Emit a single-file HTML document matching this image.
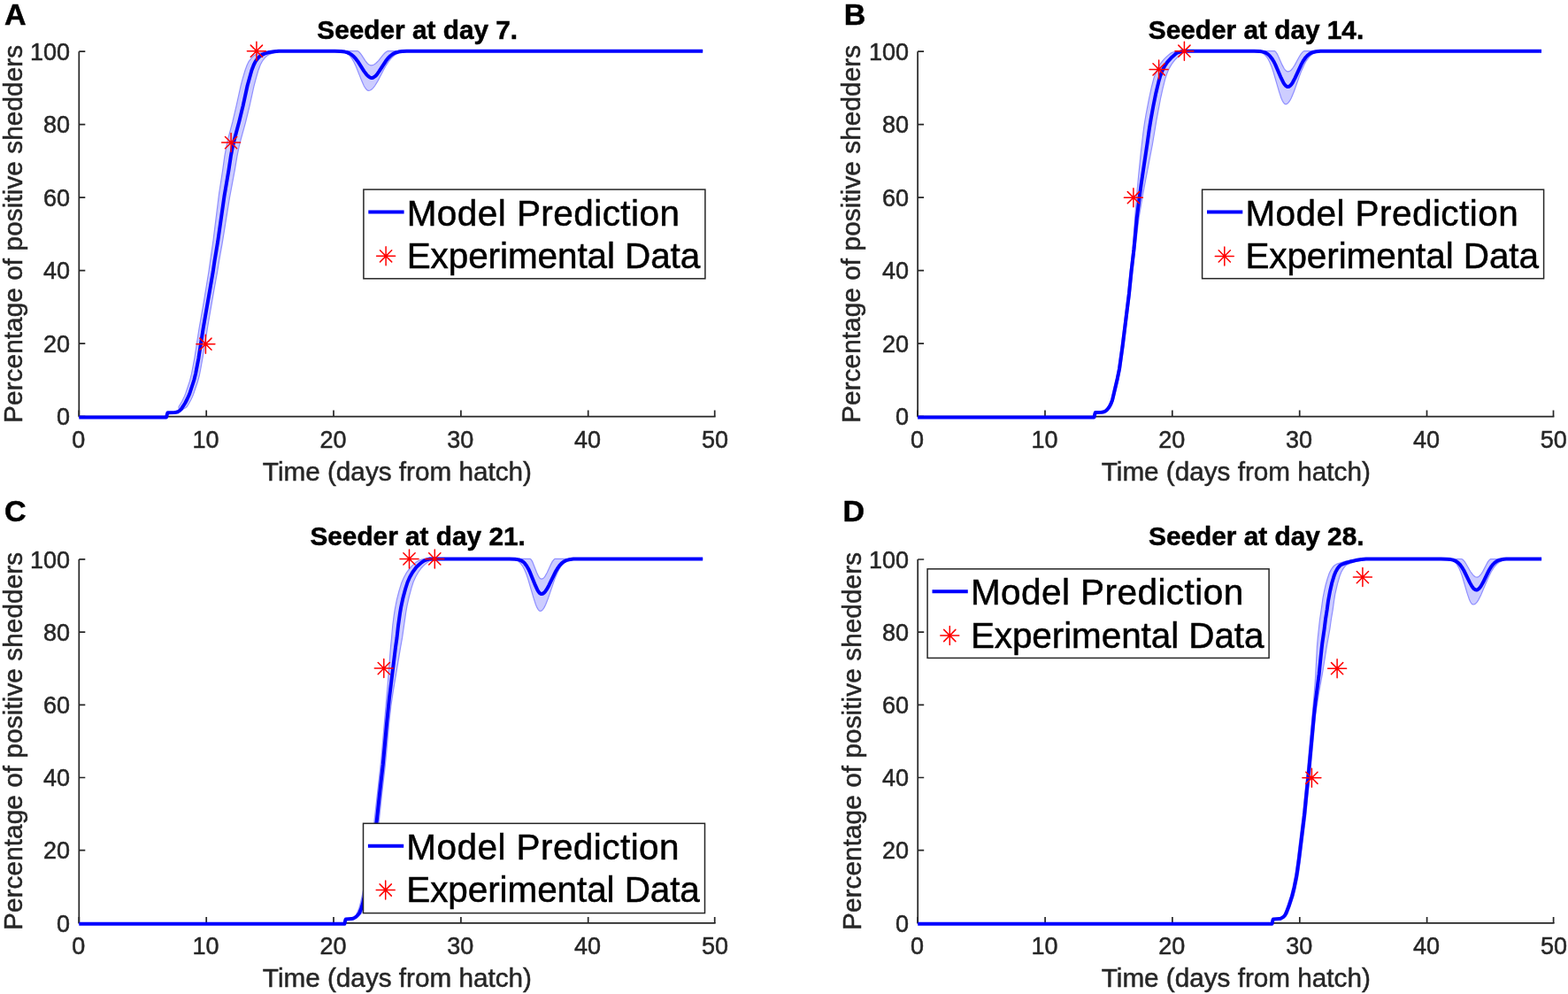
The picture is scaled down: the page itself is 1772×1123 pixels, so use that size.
<!DOCTYPE html>
<html><head><meta charset="utf-8"><title>Seeder figure</title>
<style>html,body{margin:0;padding:0;background:#fff;width:1772px;height:1123px;overflow:hidden}svg{display:block}</style>
</head><body>
<svg width="1772" height="1123" viewBox="0 0 1772 1123">
<rect width="1772" height="1123" fill="#fff"/>
<g id="panelA">
<path d="M89.3,58.2V470.6H808.6" fill="none" stroke="#262626" stroke-width="1.7" stroke-linejoin="round"/>
<path d="M89.3,470.6V463.6M233.2,470.6V463.6M377.0,470.6V463.6M520.9,470.6V463.6M664.7,470.6V463.6M807.7,470.6V463.6M89.3,470.6H96.3M89.3,388.1H96.3M89.3,305.6H96.3M89.3,223.2H96.3M89.3,140.7H96.3M89.3,58.2H96.3" stroke="#262626" stroke-width="1.7" fill="none"/>
<text transform="translate(88.7,506.1) scale(1,1.03)" text-anchor="middle" style="font-family:'Liberation Sans',Arial,Helvetica,sans-serif;font-size:27px" fill="#262626" stroke="#262626" stroke-width="0.5">0</text>
<text transform="translate(232.6,506.1) scale(1,1.03)" text-anchor="middle" style="font-family:'Liberation Sans',Arial,Helvetica,sans-serif;font-size:27px" fill="#262626" stroke="#262626" stroke-width="0.5">10</text>
<text transform="translate(376.4,506.1) scale(1,1.03)" text-anchor="middle" style="font-family:'Liberation Sans',Arial,Helvetica,sans-serif;font-size:27px" fill="#262626" stroke="#262626" stroke-width="0.5">20</text>
<text transform="translate(520.3,506.1) scale(1,1.03)" text-anchor="middle" style="font-family:'Liberation Sans',Arial,Helvetica,sans-serif;font-size:27px" fill="#262626" stroke="#262626" stroke-width="0.5">30</text>
<text transform="translate(664.1,506.1) scale(1,1.03)" text-anchor="middle" style="font-family:'Liberation Sans',Arial,Helvetica,sans-serif;font-size:27px" fill="#262626" stroke="#262626" stroke-width="0.5">40</text>
<text transform="translate(808.0,506.1) scale(1,1.03)" text-anchor="middle" style="font-family:'Liberation Sans',Arial,Helvetica,sans-serif;font-size:27px" fill="#262626" stroke="#262626" stroke-width="0.5">50</text>
<text transform="translate(79.1,480.2) scale(1,1.03)" text-anchor="end" style="font-family:'Liberation Sans',Arial,Helvetica,sans-serif;font-size:27px" fill="#262626" stroke="#262626" stroke-width="0.5">0</text>
<text transform="translate(79.1,397.7) scale(1,1.03)" text-anchor="end" style="font-family:'Liberation Sans',Arial,Helvetica,sans-serif;font-size:27px" fill="#262626" stroke="#262626" stroke-width="0.5">20</text>
<text transform="translate(79.1,315.2) scale(1,1.03)" text-anchor="end" style="font-family:'Liberation Sans',Arial,Helvetica,sans-serif;font-size:27px" fill="#262626" stroke="#262626" stroke-width="0.5">40</text>
<text transform="translate(79.1,232.8) scale(1,1.03)" text-anchor="end" style="font-family:'Liberation Sans',Arial,Helvetica,sans-serif;font-size:27px" fill="#262626" stroke="#262626" stroke-width="0.5">60</text>
<text transform="translate(79.1,150.3) scale(1,1.03)" text-anchor="end" style="font-family:'Liberation Sans',Arial,Helvetica,sans-serif;font-size:27px" fill="#262626" stroke="#262626" stroke-width="0.5">80</text>
<text transform="translate(79.1,67.8) scale(1,1.03)" text-anchor="end" style="font-family:'Liberation Sans',Arial,Helvetica,sans-serif;font-size:27px" fill="#262626" stroke="#262626" stroke-width="0.5">100</text>
<text transform="translate(448.9,543.0)" text-anchor="middle" style="font-family:'Liberation Sans',Arial,Helvetica,sans-serif;font-size:29.7px" fill="#262626" stroke="#262626" stroke-width="0.5">Time (days from hatch)</text>
<text transform="translate(24.6,264.4) rotate(-90)" text-anchor="middle" style="font-family:'Liberation Sans',Arial,Helvetica,sans-serif;font-size:29.7px" fill="#262626" stroke="#262626" stroke-width="0.5" textLength="427" lengthAdjust="spacing">Percentage of positive shedders</text>
<text transform="translate(471.7,43.9) scale(1,1.01)" text-anchor="middle" style="font-family:'Liberation Sans',Arial,Helvetica,sans-serif;font-size:29.8px;font-weight:bold" fill="#000" stroke="#000" stroke-width="0.5">Seeder at day 7.</text>
<text transform="translate(5.0,28.1)" style="font-family:'Liberation Sans',Arial,Helvetica,sans-serif;font-size:34px;font-weight:bold" fill="#000" stroke="#000" stroke-width="0.5">A</text>
<polygon points="89.3,471.4 188.0,471.4 189.1,467.3 189.6,466.2 196.8,466.0 198.8,465.8 201.2,465.2 201.8,464.8 202.2,464.2 202.5,463.1 202.0,460.7 202.1,459.5 205.8,453.2 208.7,447.2 209.8,444.4 214.4,430.6 216.5,422.3 219.8,404.8 224.8,372.6 230.6,339.4 235.9,307.2 237.5,295.5 240.8,273.2 247.6,218.6 251.7,192.2 253.9,176.2 256.2,163.8 257.8,156.7 262.8,137.9 267.2,119.2 272.0,97.4 274.0,89.7 277.0,79.5 279.2,73.5 281.1,69.6 283.0,67.0 284.8,64.9 286.5,63.3 288.2,62.1 291.9,60.4 295.7,59.3 302.3,58.2 307.5,57.7 403.8,57.7 404.5,57.9 405.3,58.3 406.9,60.0 408.6,62.2 412.8,68.7 415.1,71.5 416.3,72.6 417.4,73.3 418.5,73.7 419.5,73.8 420.8,73.7 422.1,73.2 423.4,72.5 424.8,71.5 427.7,68.6 432.8,62.2 434.8,60.0 436.9,58.3 437.8,57.9 438.7,57.7 786.7,57.7 794.2,57.7 475.3,57.7 464.0,57.8 457.5,58.3 452.8,59.1 450.8,59.8 448.9,60.6 447.1,61.6 445.4,62.8 442.1,65.8 439.2,69.4 436.1,74.2 433.3,79.2 426.9,91.6 423.6,97.0 421.7,99.4 420.0,101.1 418.3,102.0 416.7,102.4 415.4,102.1 414.1,101.1 412.8,99.5 411.3,97.0 408.9,91.6 402.2,74.7 400.2,70.5 398.2,66.9 396.2,64.1 394.1,61.9 391.8,60.3 389.3,59.1 387.4,58.5 385.1,58.1 378.8,57.8 322.6,57.7 317.3,58.2 310.7,59.3 306.9,60.4 303.1,62.1 301.5,63.3 299.8,64.9 298.0,67.0 296.2,69.5 294.2,73.3 292.0,79.2 289.0,89.7 286.9,97.7 282.0,119.9 277.4,138.7 272.1,157.8 269.9,166.8 268.0,176.2 265.3,192.2 259.4,223.6 251.1,275.1 247.7,294.2 245.5,307.6 241.8,327.8 234.7,368.8 229.3,402.7 226.8,416.5 225.2,424.5 223.2,431.7 218.6,445.4 217.3,448.6 215.6,452.0 213.5,455.8 211.6,459.0 210.9,459.7 209.9,460.6 206.2,462.7 200.8,465.4 197.6,466.0 189.6,466.2 189.1,467.3 188.0,471.4 89.3,471.4" fill="#cdcdff" stroke="none"/>
<polyline points="89.3,471.4 188.0,471.4 189.1,467.3 189.6,466.2 196.8,466.0 198.8,465.8 201.2,465.2 201.8,464.8 202.2,464.2 202.5,463.1 202.0,460.7 202.1,459.5 205.8,453.2 208.7,447.2 209.8,444.4 214.4,430.6 216.5,422.3 219.8,404.8 224.8,372.6 230.6,339.4 235.9,307.2 237.5,295.5 240.8,273.2 247.6,218.6 251.7,192.2 253.9,176.2 256.2,163.8 257.8,156.7 262.8,137.9 267.2,119.2 272.0,97.4 274.0,89.7 277.0,79.5 279.2,73.5 281.1,69.6 283.0,67.0 284.8,64.9 286.5,63.3 288.2,62.1 291.9,60.4 295.7,59.3 302.3,58.2 307.5,57.7 403.8,57.7 404.5,57.9 405.3,58.3 406.9,60.0 408.6,62.2 412.8,68.7 415.1,71.5 416.3,72.6 417.4,73.3 418.5,73.7 419.5,73.8 420.8,73.7 422.1,73.2 423.4,72.5 424.8,71.5 427.7,68.6 432.8,62.2 434.8,60.0 436.9,58.3 437.8,57.9 438.7,57.7 786.7,57.7" fill="none" stroke="#8f8fff" stroke-width="1.2"/>
<polyline points="89.3,471.4 188.0,471.4 189.1,467.3 189.6,466.2 197.6,466.0 200.8,465.4 206.2,462.7 209.9,460.6 210.9,459.7 211.6,459.0 213.5,455.8 215.6,452.0 217.3,448.6 218.6,445.4 223.2,431.7 225.2,424.5 226.8,416.5 229.3,402.7 234.7,368.8 241.8,327.8 245.5,307.6 247.7,294.2 251.1,275.1 259.4,223.6 265.3,192.2 268.0,176.2 269.9,166.8 272.1,157.8 277.4,138.7 282.0,119.9 286.9,97.7 289.0,89.7 292.0,79.2 294.2,73.3 296.2,69.5 298.0,67.0 299.8,64.9 301.5,63.3 303.1,62.1 306.9,60.4 310.7,59.3 317.3,58.2 322.6,57.7 378.8,57.8 385.1,58.1 387.4,58.5 389.3,59.1 391.8,60.3 394.1,61.9 396.2,64.1 398.2,66.9 400.2,70.5 402.2,74.7 408.9,91.6 411.3,97.0 412.8,99.5 414.1,101.1 415.4,102.1 416.7,102.4 418.3,102.0 420.0,101.1 421.7,99.4 423.6,97.0 426.9,91.6 433.3,79.2 436.1,74.2 439.2,69.4 442.1,65.8 445.4,62.8 447.1,61.6 448.9,60.6 450.8,59.8 452.8,59.1 457.5,58.3 464.0,57.8 475.3,57.7 794.2,57.7" fill="none" stroke="#8f8fff" stroke-width="1.2"/>
<polyline points="89.3,471.4 188.0,471.4 189.1,467.3 189.6,466.2 197.0,466.0 199.0,465.8 201.2,465.2 203.1,463.9 204.7,462.3 207.1,458.7 209.3,455.2 211.6,450.8 214.2,445.0 219.4,429.0 221.2,421.6 224.4,404.8 229.6,371.3 240.7,307.2 242.4,295.5 246.1,273.2 253.6,220.8 258.5,192.2 260.9,176.2 262.9,165.7 264.9,157.6 270.3,137.3 274.6,119.6 279.6,96.8 284.4,79.5 286.7,73.5 288.6,69.6 290.5,67.0 292.3,64.9 294.0,63.3 295.7,62.1 299.4,60.4 303.2,59.3 309.8,58.2 315.0,57.7 378.2,57.7 385.1,58.0 389.8,58.6 392.6,59.3 395.1,60.4 397.5,61.9 399.7,63.8 401.9,66.2 404.2,69.2 411.5,80.6 414.3,84.3 415.9,85.9 417.3,87.0 418.7,87.7 420.1,87.9 421.5,87.7 422.8,87.0 424.3,85.9 425.8,84.3 428.4,80.7 436.1,68.8 438.7,65.5 441.3,63.0 444.1,60.9 447.0,59.5 450.4,58.6 454.5,58.0 459.8,57.8 469.5,57.7 794.2,57.7" fill="none" stroke="#0000ff" stroke-width="4" stroke-linejoin="round" stroke-linecap="butt"/>
<path d="M221.9,388.7H242.9M232.4,378.2V399.2M225.8,382.1L239.0,395.3M225.8,395.3L239.0,382.1M250.6,161.1H271.6M261.1,150.6V171.6M254.5,154.5L267.7,167.7M254.5,167.7L267.7,154.5M279.4,57.7H300.4M289.9,47.2V68.2M283.3,51.1L296.5,64.3M283.3,64.3L296.5,51.1" stroke="#ff0000" stroke-width="1.5" stroke-linecap="round" fill="none"/>
<rect x="410.9" y="214.1" width="386.0" height="100.7" fill="#fff" stroke="#262626" stroke-width="1.5"/>
<path d="M416.3,239.5H456.6" stroke="#0000ff" stroke-width="4"/>
<path d="M425.6,289.3H446.6M436.1,278.8V299.8M429.5,282.7L442.7,295.9M429.5,295.9L442.7,282.7" stroke="#ff0000" stroke-width="1.5" stroke-linecap="round" fill="none"/>
<text transform="translate(459.7,254.7) scale(1,1.01)" style="font-family:'Liberation Sans',Arial,Helvetica,sans-serif;font-size:40.5px" fill="#000" stroke="#000" stroke-width="0.5" textLength="308.3" lengthAdjust="spacing">Model Prediction</text>
<text transform="translate(459.7,302.8) scale(1,1.01)" style="font-family:'Liberation Sans',Arial,Helvetica,sans-serif;font-size:40.5px" fill="#000" stroke="#000" stroke-width="0.5" textLength="331.6" lengthAdjust="spacing">Experimental Data</text>
</g>
<g id="panelB">
<path d="M1037.1,58.2V470.6H1756.4" fill="none" stroke="#262626" stroke-width="1.7" stroke-linejoin="round"/>
<path d="M1037.1,470.6V463.6M1181.0,470.6V463.6M1324.8,470.6V463.6M1468.7,470.6V463.6M1612.5,470.6V463.6M1755.5,470.6V463.6M1037.1,470.6H1044.1M1037.1,388.1H1044.1M1037.1,305.6H1044.1M1037.1,223.2H1044.1M1037.1,140.7H1044.1M1037.1,58.2H1044.1" stroke="#262626" stroke-width="1.7" fill="none"/>
<text transform="translate(1036.5,506.1) scale(1,1.03)" text-anchor="middle" style="font-family:'Liberation Sans',Arial,Helvetica,sans-serif;font-size:27px" fill="#262626" stroke="#262626" stroke-width="0.5">0</text>
<text transform="translate(1180.4,506.1) scale(1,1.03)" text-anchor="middle" style="font-family:'Liberation Sans',Arial,Helvetica,sans-serif;font-size:27px" fill="#262626" stroke="#262626" stroke-width="0.5">10</text>
<text transform="translate(1324.2,506.1) scale(1,1.03)" text-anchor="middle" style="font-family:'Liberation Sans',Arial,Helvetica,sans-serif;font-size:27px" fill="#262626" stroke="#262626" stroke-width="0.5">20</text>
<text transform="translate(1468.1,506.1) scale(1,1.03)" text-anchor="middle" style="font-family:'Liberation Sans',Arial,Helvetica,sans-serif;font-size:27px" fill="#262626" stroke="#262626" stroke-width="0.5">30</text>
<text transform="translate(1611.9,506.1) scale(1,1.03)" text-anchor="middle" style="font-family:'Liberation Sans',Arial,Helvetica,sans-serif;font-size:27px" fill="#262626" stroke="#262626" stroke-width="0.5">40</text>
<text transform="translate(1755.8,506.1) scale(1,1.03)" text-anchor="middle" style="font-family:'Liberation Sans',Arial,Helvetica,sans-serif;font-size:27px" fill="#262626" stroke="#262626" stroke-width="0.5">50</text>
<text transform="translate(1026.9,480.2) scale(1,1.03)" text-anchor="end" style="font-family:'Liberation Sans',Arial,Helvetica,sans-serif;font-size:27px" fill="#262626" stroke="#262626" stroke-width="0.5">0</text>
<text transform="translate(1026.9,397.7) scale(1,1.03)" text-anchor="end" style="font-family:'Liberation Sans',Arial,Helvetica,sans-serif;font-size:27px" fill="#262626" stroke="#262626" stroke-width="0.5">20</text>
<text transform="translate(1026.9,315.2) scale(1,1.03)" text-anchor="end" style="font-family:'Liberation Sans',Arial,Helvetica,sans-serif;font-size:27px" fill="#262626" stroke="#262626" stroke-width="0.5">40</text>
<text transform="translate(1026.9,232.8) scale(1,1.03)" text-anchor="end" style="font-family:'Liberation Sans',Arial,Helvetica,sans-serif;font-size:27px" fill="#262626" stroke="#262626" stroke-width="0.5">60</text>
<text transform="translate(1026.9,150.3) scale(1,1.03)" text-anchor="end" style="font-family:'Liberation Sans',Arial,Helvetica,sans-serif;font-size:27px" fill="#262626" stroke="#262626" stroke-width="0.5">80</text>
<text transform="translate(1026.9,67.8) scale(1,1.03)" text-anchor="end" style="font-family:'Liberation Sans',Arial,Helvetica,sans-serif;font-size:27px" fill="#262626" stroke="#262626" stroke-width="0.5">100</text>
<text transform="translate(1396.8,543.0)" text-anchor="middle" style="font-family:'Liberation Sans',Arial,Helvetica,sans-serif;font-size:29.7px" fill="#262626" stroke="#262626" stroke-width="0.5">Time (days from hatch)</text>
<text transform="translate(972.4,264.4) rotate(-90)" text-anchor="middle" style="font-family:'Liberation Sans',Arial,Helvetica,sans-serif;font-size:29.7px" fill="#262626" stroke="#262626" stroke-width="0.5" textLength="427" lengthAdjust="spacing">Percentage of positive shedders</text>
<text transform="translate(1419.5,43.9) scale(1,1.01)" text-anchor="middle" style="font-family:'Liberation Sans',Arial,Helvetica,sans-serif;font-size:29.8px;font-weight:bold" fill="#000" stroke="#000" stroke-width="0.5">Seeder at day 14.</text>
<text transform="translate(953.8,28.1)" style="font-family:'Liberation Sans',Arial,Helvetica,sans-serif;font-size:34px;font-weight:bold" fill="#000" stroke="#000" stroke-width="0.5">B</text>
<polygon points="1037.1,471.4 1236.5,471.4 1237.4,467.3 1237.9,466.1 1244.9,465.8 1246.5,465.6 1248.8,464.7 1249.6,464.0 1250.5,462.9 1254.2,455.8 1255.4,452.6 1256.1,450.2 1260.9,429.4 1263.2,419.2 1266.7,394.6 1274.4,332.6 1277.1,306.7 1279.6,285.4 1281.0,269.6 1282.7,244.7 1284.6,220.8 1287.1,194.3 1289.2,173.2 1291.9,150.3 1293.3,140.0 1295.1,129.3 1298.5,111.6 1301.2,99.2 1304.0,88.3 1306.7,80.8 1308.1,77.7 1309.5,75.0 1311.2,72.3 1313.2,69.6 1315.5,66.9 1317.8,64.6 1321.7,61.2 1323.5,59.9 1324.7,59.4 1328.3,58.3 1330.8,57.9 1333.0,57.7 1440.3,57.7 1441.0,58.0 1441.7,58.7 1443.4,61.1 1444.9,64.2 1449.0,73.4 1451.2,77.5 1452.3,78.9 1453.4,80.0 1454.4,80.7 1455.4,80.9 1456.7,80.7 1458.0,80.0 1459.3,79.0 1460.6,77.5 1463.3,73.4 1468.2,64.2 1470.2,61.0 1472.2,58.6 1473.1,58.0 1474.0,57.7 1735.5,57.7 1742.0,57.7 1505.6,57.7 1495.6,57.9 1492.3,58.2 1489.7,58.6 1487.6,59.1 1485.7,59.9 1483.9,60.8 1482.2,61.9 1480.6,63.3 1479.1,64.9 1476.2,68.8 1473.6,73.7 1470.8,79.9 1468.2,86.7 1462.4,103.2 1459.4,110.5 1457.7,113.7 1456.1,115.9 1454.5,117.3 1453.7,117.6 1453.0,117.7 1452.4,117.6 1451.8,117.3 1450.5,115.9 1449.2,113.7 1447.8,110.5 1445.4,103.1 1438.9,80.8 1436.9,75.0 1434.9,70.3 1433.0,66.5 1430.9,63.5 1428.7,61.2 1426.2,59.6 1424.2,58.8 1421.9,58.3 1419.0,57.9 1415.4,57.8 1346.2,57.7 1343.9,57.9 1341.4,58.3 1337.6,59.4 1336.4,59.9 1334.7,61.1 1331.4,64.0 1327.6,67.9 1324.0,72.6 1321.1,77.6 1318.8,83.0 1316.7,89.3 1314.0,100.1 1311.5,111.3 1306.7,137.0 1302.4,163.0 1291.7,218.6 1287.2,245.3 1285.3,260.1 1280.2,304.8 1277.1,334.5 1270.1,390.8 1266.5,416.8 1264.0,428.5 1258.6,451.6 1257.0,455.9 1255.1,459.5 1253.9,460.9 1252.2,462.4 1249.7,464.2 1248.4,465.0 1246.6,465.5 1245.3,465.8 1237.9,466.1 1237.4,467.3 1236.5,471.4 1037.1,471.4" fill="#cdcdff" stroke="none"/>
<polyline points="1037.1,471.4 1236.5,471.4 1237.4,467.3 1237.9,466.1 1244.9,465.8 1246.5,465.6 1248.8,464.7 1249.6,464.0 1250.5,462.9 1254.2,455.8 1255.4,452.6 1256.1,450.2 1260.9,429.4 1263.2,419.2 1266.7,394.6 1274.4,332.6 1277.1,306.7 1279.6,285.4 1281.0,269.6 1282.7,244.7 1284.6,220.8 1287.1,194.3 1289.2,173.2 1291.9,150.3 1293.3,140.0 1295.1,129.3 1298.5,111.6 1301.2,99.2 1304.0,88.3 1306.7,80.8 1308.1,77.7 1309.5,75.0 1311.2,72.3 1313.2,69.6 1315.5,66.9 1317.8,64.6 1321.7,61.2 1323.5,59.9 1324.7,59.4 1328.3,58.3 1330.8,57.9 1333.0,57.7 1440.3,57.7 1441.0,58.0 1441.7,58.7 1443.4,61.1 1444.9,64.2 1449.0,73.4 1451.2,77.5 1452.3,78.9 1453.4,80.0 1454.4,80.7 1455.4,80.9 1456.7,80.7 1458.0,80.0 1459.3,79.0 1460.6,77.5 1463.3,73.4 1468.2,64.2 1470.2,61.0 1472.2,58.6 1473.1,58.0 1474.0,57.7 1735.5,57.7" fill="none" stroke="#8f8fff" stroke-width="1.2"/>
<polyline points="1037.1,471.4 1236.5,471.4 1237.4,467.3 1237.9,466.1 1245.3,465.8 1246.6,465.5 1248.4,465.0 1249.7,464.2 1252.2,462.4 1253.9,460.9 1255.1,459.5 1257.0,455.9 1258.6,451.6 1264.0,428.5 1266.5,416.8 1270.1,390.8 1277.1,334.5 1280.2,304.8 1285.3,260.1 1287.2,245.3 1291.7,218.6 1302.4,163.0 1306.7,137.0 1311.5,111.3 1314.0,100.1 1316.7,89.3 1318.8,83.0 1321.1,77.6 1324.0,72.6 1327.6,67.9 1331.4,64.0 1334.7,61.1 1336.4,59.9 1337.6,59.4 1341.4,58.3 1343.9,57.9 1346.2,57.7 1415.4,57.8 1419.0,57.9 1421.9,58.3 1424.2,58.8 1426.2,59.6 1428.7,61.2 1430.9,63.5 1433.0,66.5 1434.9,70.3 1436.9,75.0 1438.9,80.8 1445.4,103.1 1447.8,110.5 1449.2,113.7 1450.5,115.9 1451.8,117.3 1452.4,117.6 1453.0,117.7 1453.7,117.6 1454.5,117.3 1456.1,115.9 1457.7,113.7 1459.4,110.5 1462.4,103.2 1468.2,86.7 1470.8,79.9 1473.6,73.7 1476.2,68.8 1479.1,64.9 1480.6,63.3 1482.2,61.9 1483.9,60.8 1485.7,59.9 1487.6,59.1 1489.7,58.6 1492.3,58.2 1495.6,57.9 1505.6,57.7 1742.0,57.7" fill="none" stroke="#8f8fff" stroke-width="1.2"/>
<polyline points="1037.1,471.4 1236.5,471.4 1237.4,467.3 1237.9,466.1 1245.2,465.8 1247.7,465.2 1248.9,464.7 1250.1,463.8 1251.5,462.5 1252.8,460.8 1254.1,458.8 1255.2,456.7 1257.1,451.9 1262.7,428.2 1265.1,416.3 1268.7,390.2 1276.0,331.4 1278.5,306.7 1281.4,282.0 1284.8,246.0 1287.8,221.9 1289.5,209.3 1296.6,161.5 1298.8,145.9 1300.6,134.9 1303.3,120.0 1306.3,105.2 1309.5,91.9 1311.2,86.0 1313.8,79.3 1315.2,76.4 1316.7,73.8 1318.4,71.3 1320.4,68.8 1324.5,64.4 1328.2,61.2 1329.9,59.9 1331.1,59.4 1334.8,58.3 1337.3,57.9 1339.6,57.7 1417.2,57.7 1423.9,58.0 1426.2,58.4 1428.3,58.9 1430.8,59.9 1433.1,61.4 1435.2,63.4 1437.2,65.9 1439.3,69.2 1441.3,73.1 1447.8,88.2 1450.3,93.2 1451.6,95.3 1452.9,96.8 1454.2,97.7 1455.4,98.0 1456.7,97.7 1458.0,96.9 1459.4,95.4 1460.8,93.3 1463.4,88.4 1470.7,72.6 1473.1,68.3 1475.4,65.0 1477.9,62.3 1480.6,60.4 1483.6,59.0 1487.3,58.2 1492.3,57.8 1501.1,57.7 1742.0,57.7" fill="none" stroke="#0000ff" stroke-width="4" stroke-linejoin="round" stroke-linecap="butt"/>
<path d="M1270.4,223.2H1291.4M1280.9,212.7V233.7M1274.3,216.6L1287.5,229.8M1274.3,229.8L1287.5,216.6M1299.1,78.4H1320.1M1309.6,67.9V88.9M1303.0,71.8L1316.2,85.0M1303.0,85.0L1316.2,71.8M1327.9,57.7H1348.9M1338.4,47.2V68.2M1331.8,51.1L1345.0,64.3M1331.8,64.3L1345.0,51.1" stroke="#ff0000" stroke-width="1.5" stroke-linecap="round" fill="none"/>
<rect x="1358.6" y="214.2" width="386.0" height="100.5" fill="#fff" stroke="#262626" stroke-width="1.5"/>
<path d="M1364.0,239.6H1404.3" stroke="#0000ff" stroke-width="4"/>
<path d="M1373.3,289.4H1394.3M1383.8,278.9V299.9M1377.2,282.8L1390.4,296.0M1377.2,296.0L1390.4,282.8" stroke="#ff0000" stroke-width="1.5" stroke-linecap="round" fill="none"/>
<text transform="translate(1407.4,254.8) scale(1,1.01)" style="font-family:'Liberation Sans',Arial,Helvetica,sans-serif;font-size:40.5px" fill="#000" stroke="#000" stroke-width="0.5" textLength="308.3" lengthAdjust="spacing">Model Prediction</text>
<text transform="translate(1407.4,302.9) scale(1,1.01)" style="font-family:'Liberation Sans',Arial,Helvetica,sans-serif;font-size:40.5px" fill="#000" stroke="#000" stroke-width="0.5" textLength="331.6" lengthAdjust="spacing">Experimental Data</text>
</g>
<g id="panelC">
<path d="M89.3,631.9V1042.9H808.6" fill="none" stroke="#262626" stroke-width="1.7" stroke-linejoin="round"/>
<path d="M89.3,1042.9V1035.9M233.2,1042.9V1035.9M377.0,1042.9V1035.9M520.9,1042.9V1035.9M664.7,1042.9V1035.9M807.7,1042.9V1035.9M89.3,1042.9H96.3M89.3,960.7H96.3M89.3,878.5H96.3M89.3,796.3H96.3M89.3,714.1H96.3M89.3,631.9H96.3" stroke="#262626" stroke-width="1.7" fill="none"/>
<text transform="translate(88.7,1078.4) scale(1,1.03)" text-anchor="middle" style="font-family:'Liberation Sans',Arial,Helvetica,sans-serif;font-size:27px" fill="#262626" stroke="#262626" stroke-width="0.5">0</text>
<text transform="translate(232.6,1078.4) scale(1,1.03)" text-anchor="middle" style="font-family:'Liberation Sans',Arial,Helvetica,sans-serif;font-size:27px" fill="#262626" stroke="#262626" stroke-width="0.5">10</text>
<text transform="translate(376.4,1078.4) scale(1,1.03)" text-anchor="middle" style="font-family:'Liberation Sans',Arial,Helvetica,sans-serif;font-size:27px" fill="#262626" stroke="#262626" stroke-width="0.5">20</text>
<text transform="translate(520.3,1078.4) scale(1,1.03)" text-anchor="middle" style="font-family:'Liberation Sans',Arial,Helvetica,sans-serif;font-size:27px" fill="#262626" stroke="#262626" stroke-width="0.5">30</text>
<text transform="translate(664.1,1078.4) scale(1,1.03)" text-anchor="middle" style="font-family:'Liberation Sans',Arial,Helvetica,sans-serif;font-size:27px" fill="#262626" stroke="#262626" stroke-width="0.5">40</text>
<text transform="translate(808.0,1078.4) scale(1,1.03)" text-anchor="middle" style="font-family:'Liberation Sans',Arial,Helvetica,sans-serif;font-size:27px" fill="#262626" stroke="#262626" stroke-width="0.5">50</text>
<text transform="translate(79.1,1052.5) scale(1,1.03)" text-anchor="end" style="font-family:'Liberation Sans',Arial,Helvetica,sans-serif;font-size:27px" fill="#262626" stroke="#262626" stroke-width="0.5">0</text>
<text transform="translate(79.1,970.3) scale(1,1.03)" text-anchor="end" style="font-family:'Liberation Sans',Arial,Helvetica,sans-serif;font-size:27px" fill="#262626" stroke="#262626" stroke-width="0.5">20</text>
<text transform="translate(79.1,888.1) scale(1,1.03)" text-anchor="end" style="font-family:'Liberation Sans',Arial,Helvetica,sans-serif;font-size:27px" fill="#262626" stroke="#262626" stroke-width="0.5">40</text>
<text transform="translate(79.1,805.9) scale(1,1.03)" text-anchor="end" style="font-family:'Liberation Sans',Arial,Helvetica,sans-serif;font-size:27px" fill="#262626" stroke="#262626" stroke-width="0.5">60</text>
<text transform="translate(79.1,723.7) scale(1,1.03)" text-anchor="end" style="font-family:'Liberation Sans',Arial,Helvetica,sans-serif;font-size:27px" fill="#262626" stroke="#262626" stroke-width="0.5">80</text>
<text transform="translate(79.1,641.5) scale(1,1.03)" text-anchor="end" style="font-family:'Liberation Sans',Arial,Helvetica,sans-serif;font-size:27px" fill="#262626" stroke="#262626" stroke-width="0.5">100</text>
<text transform="translate(448.9,1115.3)" text-anchor="middle" style="font-family:'Liberation Sans',Arial,Helvetica,sans-serif;font-size:29.7px" fill="#262626" stroke="#262626" stroke-width="0.5">Time (days from hatch)</text>
<text transform="translate(24.6,837.4) rotate(-90)" text-anchor="middle" style="font-family:'Liberation Sans',Arial,Helvetica,sans-serif;font-size:29.7px" fill="#262626" stroke="#262626" stroke-width="0.5" textLength="427" lengthAdjust="spacing">Percentage of positive shedders</text>
<text transform="translate(472.1,615.9) scale(1,1.01)" text-anchor="middle" style="font-family:'Liberation Sans',Arial,Helvetica,sans-serif;font-size:29.8px;font-weight:bold" fill="#000" stroke="#000" stroke-width="0.5">Seeder at day 21.</text>
<text transform="translate(4.9,589.4)" style="font-family:'Liberation Sans',Arial,Helvetica,sans-serif;font-size:34px;font-weight:bold" fill="#000" stroke="#000" stroke-width="0.5">C</text>
<polygon points="89.3,1043.7 389.4,1043.7 390.3,1039.6 390.8,1038.4 397.8,1038.0 399.8,1037.4 401.3,1036.2 402.3,1034.7 403.0,1032.5 404.6,1029.2 406.1,1025.1 407.7,1019.2 409.5,1010.9 411.5,1000.4 414.3,984.2 421.3,940.5 422.8,929.6 430.9,857.3 438.2,773.1 441.5,730.8 442.5,721.4 443.8,706.2 445.3,694.8 446.4,687.9 448.4,677.7 450.9,668.0 453.7,658.8 456.3,652.7 459.5,646.9 463.2,641.8 465.3,639.6 467.6,637.4 470.1,635.3 472.2,633.9 473.8,633.1 476.6,632.1 478.7,631.6 480.5,631.4 599.1,631.4 599.7,631.7 600.4,632.3 601.7,634.6 606.5,646.7 608.4,650.8 609.4,652.3 610.2,653.3 611.1,653.9 611.9,654.1 613.0,653.9 614.0,653.3 615.0,652.3 616.1,650.9 618.4,646.8 622.5,637.7 624.1,634.6 625.8,632.3 626.5,631.7 627.2,631.4 787.7,631.4 794.2,631.4 656.8,631.4 648.3,631.8 645.4,632.2 642.9,632.8 639.7,634.2 636.9,636.4 634.3,639.3 631.9,643.1 629.6,647.7 627.1,653.6 619.4,676.1 616.6,683.3 615.0,686.4 613.5,688.6 612.1,689.9 611.4,690.2 610.6,690.4 610.1,690.3 609.4,689.9 608.2,688.6 606.9,686.4 605.5,683.2 603.1,675.9 596.7,654.0 594.7,648.2 592.7,643.5 590.7,639.7 588.6,636.8 586.3,634.6 583.8,633.1 581.8,632.4 579.4,631.9 576.6,631.6 572.8,631.5 493.4,631.4 491.6,631.6 489.6,632.1 486.7,633.1 485.1,633.9 483.2,635.2 480.9,637.1 478.4,639.4 476.4,641.5 472.7,646.5 469.7,651.8 467.1,657.5 465.0,664.1 462.3,674.0 459.9,684.8 458.6,692.3 454.5,720.9 452.7,730.8 444.2,781.6 441.9,797.2 439.7,816.4 436.6,851.1 435.2,865.7 431.4,898.6 428.4,926.7 427.1,936.3 419.3,985.1 416.9,999.6 415.1,1008.8 413.3,1017.7 411.6,1024.0 409.6,1029.5 408.7,1031.3 408.1,1032.2 406.7,1033.4 404.7,1034.7 401.7,1036.4 399.5,1037.5 397.3,1038.1 390.8,1038.4 390.3,1039.6 389.4,1043.7 89.3,1043.7" fill="#cdcdff" stroke="none"/>
<polyline points="89.3,1043.7 389.4,1043.7 390.3,1039.6 390.8,1038.4 397.8,1038.0 399.8,1037.4 401.3,1036.2 402.3,1034.7 403.0,1032.5 404.6,1029.2 406.1,1025.1 407.7,1019.2 409.5,1010.9 411.5,1000.4 414.3,984.2 421.3,940.5 422.8,929.6 430.9,857.3 438.2,773.1 441.5,730.8 442.5,721.4 443.8,706.2 445.3,694.8 446.4,687.9 448.4,677.7 450.9,668.0 453.7,658.8 456.3,652.7 459.5,646.9 463.2,641.8 465.3,639.6 467.6,637.4 470.1,635.3 472.2,633.9 473.8,633.1 476.6,632.1 478.7,631.6 480.5,631.4 599.1,631.4 599.7,631.7 600.4,632.3 601.7,634.6 606.5,646.7 608.4,650.8 609.4,652.3 610.2,653.3 611.1,653.9 611.9,654.1 613.0,653.9 614.0,653.3 615.0,652.3 616.1,650.9 618.4,646.8 622.5,637.7 624.1,634.6 625.8,632.3 626.5,631.7 627.2,631.4 787.7,631.4" fill="none" stroke="#8f8fff" stroke-width="1.2"/>
<polyline points="89.3,1043.7 389.4,1043.7 390.3,1039.6 390.8,1038.4 397.3,1038.1 399.5,1037.5 401.7,1036.4 404.7,1034.7 406.7,1033.4 408.1,1032.2 408.7,1031.3 409.6,1029.5 411.6,1024.0 413.3,1017.7 415.1,1008.8 416.9,999.6 419.3,985.1 427.1,936.3 428.4,926.7 431.4,898.6 435.2,865.7 436.6,851.1 439.7,816.4 441.9,797.2 444.2,781.6 452.7,730.8 454.5,720.9 458.6,692.3 459.9,684.8 462.3,674.0 465.0,664.1 467.1,657.5 469.7,651.8 472.7,646.5 476.4,641.5 478.4,639.4 480.9,637.1 483.2,635.2 485.1,633.9 486.7,633.1 489.6,632.1 491.6,631.6 493.4,631.4 572.8,631.5 576.6,631.6 579.4,631.9 581.8,632.4 583.8,633.1 586.3,634.6 588.6,636.8 590.7,639.7 592.7,643.5 594.7,648.2 596.7,654.0 603.1,675.9 605.5,683.2 606.9,686.4 608.2,688.6 609.4,689.9 610.1,690.3 610.6,690.4 611.4,690.2 612.1,689.9 613.5,688.6 615.0,686.4 616.6,683.3 619.4,676.1 627.1,653.6 629.6,647.7 631.9,643.1 634.3,639.3 636.9,636.4 639.7,634.2 642.9,632.8 645.4,632.2 648.3,631.8 656.8,631.4 794.2,631.4" fill="none" stroke="#8f8fff" stroke-width="1.2"/>
<polyline points="89.3,1043.7 389.4,1043.7 390.3,1039.6 390.8,1038.4 397.2,1038.1 398.6,1037.8 399.8,1037.4 401.1,1036.6 402.6,1035.6 403.8,1034.4 405.2,1032.7 406.2,1031.3 408.2,1026.6 410.0,1020.6 411.6,1013.4 413.8,1002.0 416.6,986.0 424.9,933.4 425.9,926.1 428.8,898.6 432.8,863.7 436.9,818.7 439.9,789.3 447.0,731.3 448.5,720.9 450.0,707.3 452.1,692.3 453.2,685.9 455.5,675.2 458.1,665.5 460.5,658.0 463.0,652.2 466.1,646.7 469.8,641.7 471.9,639.4 474.3,637.3 476.6,635.3 478.7,633.9 480.2,633.1 483.1,632.1 485.1,631.6 486.9,631.4 575.8,631.4 582.3,631.7 586.4,632.4 588.9,633.3 591.2,634.7 593.2,636.7 595.1,639.2 597.0,642.4 598.9,646.4 605.0,661.4 607.2,666.2 608.4,668.3 609.6,669.8 610.8,670.7 611.9,671.0 613.3,670.7 614.7,669.8 616.1,668.3 617.6,666.2 620.3,661.4 627.6,646.3 629.9,642.4 632.2,639.2 634.5,636.6 637.0,634.6 639.8,633.2 642.9,632.3 648.0,631.6 656.2,631.4 794.2,631.4" fill="none" stroke="#0000ff" stroke-width="4" stroke-linejoin="round" stroke-linecap="butt"/>
<path d="M423.3,755.1H444.3M433.8,744.6V765.6M427.2,748.5L440.4,761.7M427.2,761.7L440.4,748.5M452.0,631.4H473.0M462.5,620.9V641.9M455.9,624.8L469.1,638.0M455.9,638.0L469.1,624.8M480.8,631.4H501.8M491.3,620.9V641.9M484.7,624.8L497.9,638.0M484.7,638.0L497.9,624.8" stroke="#ff0000" stroke-width="1.5" stroke-linecap="round" fill="none"/>
<rect x="410.5" y="930.3" width="386.0" height="101.3" fill="#fff" stroke="#262626" stroke-width="1.5"/>
<path d="M415.9,955.7H456.2" stroke="#0000ff" stroke-width="4"/>
<path d="M425.2,1005.5H446.2M435.7,995.0V1016.0M429.1,998.9L442.3,1012.1M429.1,1012.1L442.3,998.9" stroke="#ff0000" stroke-width="1.5" stroke-linecap="round" fill="none"/>
<text transform="translate(459.3,970.9) scale(1,1.01)" style="font-family:'Liberation Sans',Arial,Helvetica,sans-serif;font-size:40.5px" fill="#000" stroke="#000" stroke-width="0.5" textLength="308.3" lengthAdjust="spacing">Model Prediction</text>
<text transform="translate(459.3,1019.0) scale(1,1.01)" style="font-family:'Liberation Sans',Arial,Helvetica,sans-serif;font-size:40.5px" fill="#000" stroke="#000" stroke-width="0.5" textLength="331.6" lengthAdjust="spacing">Experimental Data</text>
</g>
<g id="panelD">
<path d="M1037.2,632.0V1042.9H1756.5" fill="none" stroke="#262626" stroke-width="1.7" stroke-linejoin="round"/>
<path d="M1037.2,1042.9V1035.9M1181.1,1042.9V1035.9M1324.9,1042.9V1035.9M1468.8,1042.9V1035.9M1612.6,1042.9V1035.9M1755.6,1042.9V1035.9M1037.2,1042.9H1044.2M1037.2,960.7H1044.2M1037.2,878.5H1044.2M1037.2,796.4H1044.2M1037.2,714.2H1044.2M1037.2,632.0H1044.2" stroke="#262626" stroke-width="1.7" fill="none"/>
<text transform="translate(1036.6,1078.4) scale(1,1.03)" text-anchor="middle" style="font-family:'Liberation Sans',Arial,Helvetica,sans-serif;font-size:27px" fill="#262626" stroke="#262626" stroke-width="0.5">0</text>
<text transform="translate(1180.5,1078.4) scale(1,1.03)" text-anchor="middle" style="font-family:'Liberation Sans',Arial,Helvetica,sans-serif;font-size:27px" fill="#262626" stroke="#262626" stroke-width="0.5">10</text>
<text transform="translate(1324.3,1078.4) scale(1,1.03)" text-anchor="middle" style="font-family:'Liberation Sans',Arial,Helvetica,sans-serif;font-size:27px" fill="#262626" stroke="#262626" stroke-width="0.5">20</text>
<text transform="translate(1468.2,1078.4) scale(1,1.03)" text-anchor="middle" style="font-family:'Liberation Sans',Arial,Helvetica,sans-serif;font-size:27px" fill="#262626" stroke="#262626" stroke-width="0.5">30</text>
<text transform="translate(1612.0,1078.4) scale(1,1.03)" text-anchor="middle" style="font-family:'Liberation Sans',Arial,Helvetica,sans-serif;font-size:27px" fill="#262626" stroke="#262626" stroke-width="0.5">40</text>
<text transform="translate(1755.9,1078.4) scale(1,1.03)" text-anchor="middle" style="font-family:'Liberation Sans',Arial,Helvetica,sans-serif;font-size:27px" fill="#262626" stroke="#262626" stroke-width="0.5">50</text>
<text transform="translate(1027.0,1052.5) scale(1,1.03)" text-anchor="end" style="font-family:'Liberation Sans',Arial,Helvetica,sans-serif;font-size:27px" fill="#262626" stroke="#262626" stroke-width="0.5">0</text>
<text transform="translate(1027.0,970.3) scale(1,1.03)" text-anchor="end" style="font-family:'Liberation Sans',Arial,Helvetica,sans-serif;font-size:27px" fill="#262626" stroke="#262626" stroke-width="0.5">20</text>
<text transform="translate(1027.0,888.1) scale(1,1.03)" text-anchor="end" style="font-family:'Liberation Sans',Arial,Helvetica,sans-serif;font-size:27px" fill="#262626" stroke="#262626" stroke-width="0.5">40</text>
<text transform="translate(1027.0,806.0) scale(1,1.03)" text-anchor="end" style="font-family:'Liberation Sans',Arial,Helvetica,sans-serif;font-size:27px" fill="#262626" stroke="#262626" stroke-width="0.5">60</text>
<text transform="translate(1027.0,723.8) scale(1,1.03)" text-anchor="end" style="font-family:'Liberation Sans',Arial,Helvetica,sans-serif;font-size:27px" fill="#262626" stroke="#262626" stroke-width="0.5">80</text>
<text transform="translate(1027.0,641.6) scale(1,1.03)" text-anchor="end" style="font-family:'Liberation Sans',Arial,Helvetica,sans-serif;font-size:27px" fill="#262626" stroke="#262626" stroke-width="0.5">100</text>
<text transform="translate(1396.8,1115.3)" text-anchor="middle" style="font-family:'Liberation Sans',Arial,Helvetica,sans-serif;font-size:29.7px" fill="#262626" stroke="#262626" stroke-width="0.5">Time (days from hatch)</text>
<text transform="translate(972.5,837.5) rotate(-90)" text-anchor="middle" style="font-family:'Liberation Sans',Arial,Helvetica,sans-serif;font-size:29.7px" fill="#262626" stroke="#262626" stroke-width="0.5" textLength="427" lengthAdjust="spacing">Percentage of positive shedders</text>
<text transform="translate(1419.8,615.9) scale(1,1.01)" text-anchor="middle" style="font-family:'Liberation Sans',Arial,Helvetica,sans-serif;font-size:29.8px;font-weight:bold" fill="#000" stroke="#000" stroke-width="0.5">Seeder at day 28.</text>
<text transform="translate(952.6,589.3)" style="font-family:'Liberation Sans',Arial,Helvetica,sans-serif;font-size:34px;font-weight:bold" fill="#000" stroke="#000" stroke-width="0.5">D</text>
<polygon points="1037.2,1043.7 1437.6,1043.7 1438.4,1039.6 1438.9,1038.4 1445.5,1038.2 1446.8,1037.9 1448.0,1037.4 1449.4,1036.6 1450.0,1035.9 1450.6,1034.9 1451.7,1031.7 1455.0,1023.3 1458.6,1011.9 1461.2,1001.4 1463.7,988.5 1466.3,969.9 1469.8,941.1 1472.2,922.2 1474.5,898.2 1477.3,871.6 1485.0,786.2 1486.8,762.6 1488.4,730.5 1489.3,720.4 1491.5,700.0 1493.2,688.8 1495.0,675.9 1496.3,669.1 1498.1,661.0 1500.1,654.0 1502.0,648.2 1503.6,644.9 1505.8,641.3 1507.3,639.5 1508.6,638.5 1511.1,637.1 1514.2,636.0 1520.5,634.2 1525.5,633.1 1532.0,632.1 1537.6,631.5 1651.5,631.5 1652.3,631.7 1653.1,632.3 1655.1,634.4 1656.9,637.2 1661.6,645.5 1664.3,649.2 1665.6,650.6 1666.8,651.5 1668.0,652.0 1669.2,652.1 1670.3,651.9 1671.3,651.3 1672.4,650.3 1673.6,649.0 1675.9,645.4 1681.5,634.7 1683.2,632.6 1683.9,631.9 1684.6,631.6 1735.6,631.5 1742.1,631.5 1714.5,631.5 1705.8,631.8 1702.2,632.2 1699.2,632.9 1696.6,633.9 1694.2,635.2 1691.8,637.1 1689.5,639.5 1687.3,642.6 1685.1,646.2 1681.3,654.0 1673.7,672.1 1670.6,678.1 1669.2,680.2 1667.7,681.7 1666.4,682.7 1665.0,683.0 1663.9,682.7 1662.8,681.6 1661.6,679.7 1660.4,677.0 1658.2,670.6 1652.3,650.5 1650.4,645.4 1648.5,641.1 1646.5,637.7 1644.4,635.2 1642.1,633.5 1639.5,632.4 1635.7,631.7 1629.6,631.5 1550.2,631.6 1544.7,632.1 1538.3,633.1 1533.4,634.2 1527.3,636.0 1524.2,637.1 1521.7,638.3 1520.4,639.4 1518.9,641.1 1517.5,643.2 1515.8,646.2 1514.0,650.8 1511.4,659.8 1508.8,671.2 1507.6,678.5 1506.2,688.8 1504.4,699.5 1502.8,710.8 1499.3,730.5 1494.7,759.4 1490.7,781.6 1488.2,797.3 1486.9,806.2 1485.9,815.6 1480.9,870.9 1478.0,898.2 1475.9,920.3 1469.4,973.2 1467.5,986.7 1466.3,993.1 1463.7,1005.5 1461.9,1012.7 1458.1,1024.1 1455.0,1031.9 1453.7,1033.5 1451.6,1035.3 1449.9,1036.5 1447.3,1037.7 1445.8,1038.1 1438.9,1038.4 1438.4,1039.6 1437.6,1043.7 1037.2,1043.7" fill="#cdcdff" stroke="none"/>
<polyline points="1037.2,1043.7 1437.6,1043.7 1438.4,1039.6 1438.9,1038.4 1445.5,1038.2 1446.8,1037.9 1448.0,1037.4 1449.4,1036.6 1450.0,1035.9 1450.6,1034.9 1451.7,1031.7 1455.0,1023.3 1458.6,1011.9 1461.2,1001.4 1463.7,988.5 1466.3,969.9 1469.8,941.1 1472.2,922.2 1474.5,898.2 1477.3,871.6 1485.0,786.2 1486.8,762.6 1488.4,730.5 1489.3,720.4 1491.5,700.0 1493.2,688.8 1495.0,675.9 1496.3,669.1 1498.1,661.0 1500.1,654.0 1502.0,648.2 1503.6,644.9 1505.8,641.3 1507.3,639.5 1508.6,638.5 1511.1,637.1 1514.2,636.0 1520.5,634.2 1525.5,633.1 1532.0,632.1 1537.6,631.5 1651.5,631.5 1652.3,631.7 1653.1,632.3 1655.1,634.4 1656.9,637.2 1661.6,645.5 1664.3,649.2 1665.6,650.6 1666.8,651.5 1668.0,652.0 1669.2,652.1 1670.3,651.9 1671.3,651.3 1672.4,650.3 1673.6,649.0 1675.9,645.4 1681.5,634.7 1683.2,632.6 1683.9,631.9 1684.6,631.6 1735.6,631.5" fill="none" stroke="#8f8fff" stroke-width="1.2"/>
<polyline points="1037.2,1043.7 1437.6,1043.7 1438.4,1039.6 1438.9,1038.4 1445.8,1038.1 1447.3,1037.7 1449.9,1036.5 1451.6,1035.3 1453.7,1033.5 1455.0,1031.9 1458.1,1024.1 1461.9,1012.7 1463.7,1005.5 1466.3,993.1 1467.5,986.7 1469.4,973.2 1475.9,920.3 1478.0,898.2 1480.9,870.9 1485.9,815.6 1486.9,806.2 1488.2,797.3 1490.7,781.6 1494.7,759.4 1499.3,730.5 1502.8,710.8 1504.4,699.5 1506.2,688.8 1507.6,678.5 1508.8,671.2 1511.4,659.8 1514.0,650.8 1515.8,646.2 1517.5,643.2 1518.9,641.1 1520.4,639.4 1521.7,638.3 1524.2,637.1 1527.3,636.0 1533.4,634.2 1538.3,633.1 1544.7,632.1 1550.2,631.6 1629.6,631.5 1635.7,631.7 1639.5,632.4 1642.1,633.5 1644.4,635.2 1646.5,637.7 1648.5,641.1 1650.4,645.4 1652.3,650.5 1658.2,670.6 1660.4,677.0 1661.6,679.7 1662.8,681.6 1663.9,682.7 1665.0,683.0 1666.4,682.7 1667.7,681.7 1669.2,680.2 1670.6,678.1 1673.7,672.1 1681.3,654.0 1685.1,646.2 1687.3,642.6 1689.5,639.5 1691.8,637.1 1694.2,635.2 1696.6,633.9 1699.2,632.9 1702.2,632.2 1705.8,631.8 1714.5,631.5 1742.1,631.5" fill="none" stroke="#8f8fff" stroke-width="1.2"/>
<polyline points="1037.2,1043.7 1437.6,1043.7 1438.4,1039.6 1438.9,1038.4 1445.8,1038.1 1447.3,1037.7 1449.4,1036.6 1450.4,1035.9 1451.9,1034.3 1453.0,1032.6 1454.1,1030.1 1456.3,1024.3 1460.2,1012.4 1462.6,1002.7 1465.1,990.5 1466.0,984.7 1467.9,971.0 1474.2,919.6 1476.3,898.2 1479.1,870.9 1485.0,807.6 1486.5,793.7 1490.6,762.0 1493.5,733.6 1494.3,726.6 1496.6,710.8 1498.0,699.5 1499.7,688.8 1501.0,679.0 1503.1,667.7 1505.2,658.5 1507.9,649.7 1509.4,646.1 1511.0,643.2 1512.4,641.1 1513.9,639.4 1515.2,638.3 1517.8,637.1 1520.9,636.0 1527.0,634.2 1531.9,633.1 1538.3,632.1 1543.8,631.6 1628.5,631.5 1635.3,631.7 1639.5,632.1 1642.6,632.8 1645.3,634.0 1647.7,635.7 1650.0,638.0 1652.1,640.9 1654.3,644.5 1661.0,658.1 1663.4,662.4 1664.8,664.3 1666.1,665.6 1667.4,666.3 1668.6,666.5 1669.8,666.2 1671.0,665.4 1672.3,664.0 1673.7,662.1 1676.1,657.8 1682.1,645.5 1683.9,642.3 1685.6,639.7 1687.3,637.6 1689.0,635.9 1690.7,634.6 1692.6,633.5 1694.5,632.7 1696.7,632.2 1699.2,631.8 1702.3,631.6 1742.1,631.5" fill="none" stroke="#0000ff" stroke-width="4" stroke-linejoin="round" stroke-linecap="butt"/>
<path d="M1471.9,878.8H1492.9M1482.4,868.3V889.3M1475.8,872.2L1489.0,885.4M1475.8,885.4L1489.0,872.2M1500.6,755.2H1521.6M1511.1,744.7V765.7M1504.5,748.6L1517.7,761.8M1504.5,761.8L1517.7,748.6M1529.4,652.1H1550.4M1539.9,641.6V662.6M1533.3,645.5L1546.5,658.7M1533.3,658.7L1546.5,645.5" stroke="#ff0000" stroke-width="1.5" stroke-linecap="round" fill="none"/>
<rect x="1048.1" y="642.8" width="386.0" height="100.6" fill="#fff" stroke="#262626" stroke-width="1.5"/>
<path d="M1053.5,668.2H1093.8" stroke="#0000ff" stroke-width="4"/>
<path d="M1062.8,718.0H1083.8M1073.3,707.5V728.5M1066.7,711.4L1079.9,724.6M1066.7,724.6L1079.9,711.4" stroke="#ff0000" stroke-width="1.5" stroke-linecap="round" fill="none"/>
<text transform="translate(1096.9,683.4) scale(1,1.01)" style="font-family:'Liberation Sans',Arial,Helvetica,sans-serif;font-size:40.5px" fill="#000" stroke="#000" stroke-width="0.5" textLength="308.3" lengthAdjust="spacing">Model Prediction</text>
<text transform="translate(1096.9,731.5) scale(1,1.01)" style="font-family:'Liberation Sans',Arial,Helvetica,sans-serif;font-size:40.5px" fill="#000" stroke="#000" stroke-width="0.5" textLength="331.6" lengthAdjust="spacing">Experimental Data</text>
</g>
</svg>
</body></html>
